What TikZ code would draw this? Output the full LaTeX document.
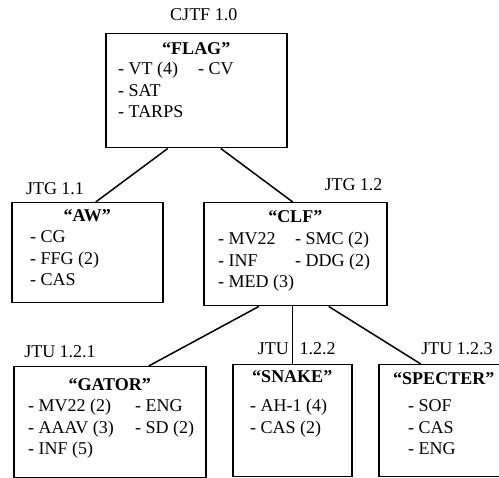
\documentclass[tikz,border=0pt]{standalone}
\usepackage{fontspec}
\setmainfont{Liberation Serif}
\tikzset{
  x=1pt, y=1pt,
}
\tikzstyle{unit}=[draw,line width=1.5pt,anchor=north west,inner sep=0pt]
\tikzstyle{link}=[line width=1.5pt]
\tikzstyle{every node}=[font=\fontsize{18}{21.5}\selectfont]
\tikzstyle{title}=[anchor=base,font=\fontsize{18}{21.5}\selectfont\bfseries]
\tikzstyle{items}=[anchor=base west,inner sep=0pt]
\tikzstyle{tag}=[anchor=base]

\begin{document}
\begin{tikzpicture}
    \clip (0,0) rectangle (499,478);

    \node[unit,minimum width=181,minimum height=114] (flag) at (105,445) {};
    \node[unit,minimum width=151,minimum height=100] (aw) at (11,276) {};
    \node[unit,minimum width=183,minimum height=103] (clf) at (203,276) {};
    \node[unit,minimum width=192,minimum height=111] (gator) at (13,112) {};
    \node[unit,minimum width=119,minimum height=112] (snake) at (232,114) {};
    \node[unit,minimum width=130,minimum height=112] (specter) at (378,114) {};

    \node[title] (flagtitle) at ([yshift=-22]flag.north) {``FLAG''};
    \node[items] (flaglist) at ([shift={(13,-42)}]flag.north west)
    {\begin{tabular}[t]{@{}p{80pt}@{}l@{}} - VT (4) & - CV\\ - SAT\\ - TARPS\end{tabular}};
    \node[tag] (cjtf) at ([shift={(7.5,12)}]flag.north) {CJTF 1.0};

    \node[title] (awtitle) at ([yshift=-20]aw.north) {``AW''};
    \node[items] (awlist) at ([shift={(19,-41)}]aw.north west)
    {\begin{tabular}[t]{@{}l@{}} - CG\\ - FFG (2)\\ - CAS\end{tabular}};
    \node[tag] (jtgone) at ([shift={(44,7)}]aw.north west) {JTG 1.1};

    \node[title] (clftitle) at ([yshift=-21]clf.north) {``CLF''};
    \node[items] (clflist) at ([shift={(15,-43)}]clf.north west)
    {\begin{tabular}[t]{@{}p{77pt}@{}l@{}} - MV22 & - SMC (2)\\ - INF & - DDG (2)\\ - MED (3)\end{tabular}};
    \node[tag] (jtgtwo) at ([shift={(-34,11)}]clf.north east) {JTG 1.2};

    \node[title] (gatortitle) at ([yshift=-25]gator.north) {``GATOR''};
    \node[items] (gatorlist) at ([shift={(15,-46)}]gator.north west)
    {\begin{tabular}[t]{@{}p{107pt}@{}l@{}} - MV22 (2) & - ENG\\ - AAAV (3) & - SD (2)\\ - INF (5)\end{tabular}};
    \node[tag] (jtuone) at ([shift={(47,8)}]gator.north west) {JTU 1.2.1};

    \node[title] (snaketitle) at ([yshift=-19]snake.north) {``SNAKE''};
    \node[items] (snakelist) at ([shift={(18,-48)}]snake.north west)
    {\begin{tabular}[t]{@{}l@{}} - AH-1 (4)\\ - CAS (2)\end{tabular}};
    \node[tag] (jtutwo) at ([shift={(4.5,9)}]snake.north) {JTU\hspace{11pt}1.2.2};

    \node[title] (spectertitle) at ([yshift=-21]specter.north) {``SPECTER''};
    \node[items] (specterlist) at ([shift={(30,-48)}]specter.north west)
    {\begin{tabular}[t]{@{}l@{}} - SOF\\ - CAS\\ - ENG\end{tabular}};
    \node[tag] (jtuthree) at ([shift={(79,9)}]specter.north west) {JTU 1.2.3};

    \draw[link] ([xshift=-28.5]flag.south) -- ([xshift=8.5]aw.north);
    \draw[link] ([xshift=24.5]flag.south) -- ([xshift=-2.5]clf.north);
    \draw[link] ([xshift=-36.5]clf.south) -- ([xshift=39]gator.north);
    \draw[link] (clf.south -| snake.north) -- (snake.north);
    \draw[link] ([xshift=33.5]clf.south) -- ([xshift=-23]specter.north);
  \end{tikzpicture}
\end{document}
